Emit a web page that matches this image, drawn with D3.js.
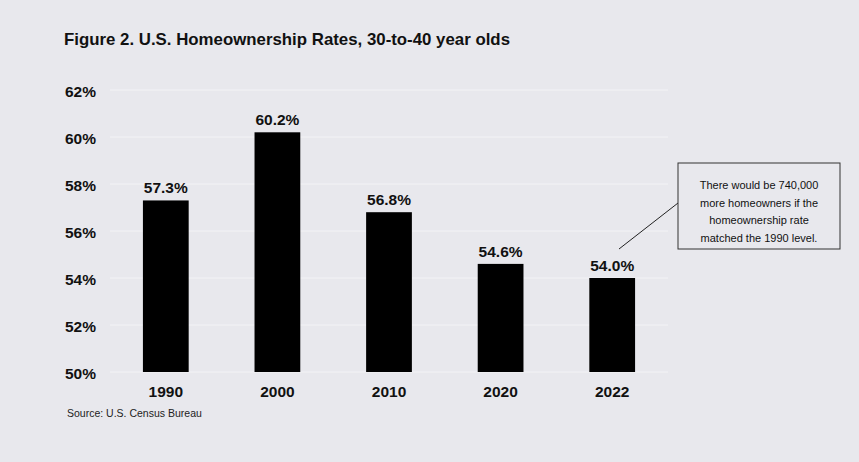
<!DOCTYPE html>
<html><head><meta charset="utf-8">
<script src="https://cdn.jsdelivr.net/npm/d3@7"></script>
<style>body{margin:0;background:#e8e8ed;} svg{display:block;font-family:"Liberation Sans",Arial,sans-serif;}</style>
</head><body>
<svg id="c" width="859" height="462"></svg>
<script>
const categories = ["1990","2000","2010","2020","2022"];
const values = [57.3, 60.2, 56.8, 54.6, 54.0];
const yTicks = [50,52,54,56,58,60,62];
const title = "Figure 2. U.S. Homeownership Rates, 30-to-40 year olds";
const source = "Source: U.S. Census Bureau";
const note = ["There would be 740,000","more homeowners if the","homeownership rate","matched the 1990 level."];

const svg = d3.select("#c");
svg.append("rect").attr("width",859).attr("height",462).attr("fill","#e8e8ed");

const x = d3.scaleBand().domain(categories).range([110,668]).paddingInner(0.59).paddingOuter(0.295);
const y = d3.scaleLinear().domain([50,62]).range([372,90]);

svg.append("text").attr("x",64).attr("y",45).attr("font-size",17).attr("font-weight","bold").attr("fill","#111")
  .attr("textLength",446).attr("lengthAdjust","spacingAndGlyphs").text(title);

// grid
svg.append("g").selectAll("line").data(yTicks).join("line")
  .attr("x1",110).attr("x2",668).attr("y1",d=>y(d)).attr("y2",d=>y(d))
  .attr("stroke","#f3f3f6").attr("stroke-width",1);

// y axis
const ya = svg.append("g").attr("transform","translate(96,0)")
  .call(d3.axisLeft(y).tickValues(yTicks).tickFormat(d=>d+"%").tickSize(0).tickPadding(0));
ya.select(".domain").remove();
ya.selectAll("text").attr("font-size",15.5).attr("font-weight","bold").attr("fill","#111")
  .attr("font-family","Liberation Sans, Arial, sans-serif").attr("dy","0.4em");

// bars
const data = categories.map((c,i)=>({c,v:values[i]}));
svg.append("g").selectAll("rect").data(data).join("rect")
  .attr("x",d=>x(d.c)).attr("width",x.bandwidth())
  .attr("y",d=>y(d.v)).attr("height",d=>y(50)-y(d.v)).attr("fill","#000");

svg.append("g").selectAll("text").data(data).join("text")
  .attr("x",d=>x(d.c)+x.bandwidth()/2).attr("y",d=>y(d.v)-7)
  .attr("text-anchor","middle").attr("font-size",15.5).attr("font-weight","bold").attr("fill","#111")
  .text(d=>d.v.toFixed(1)+"%");

// x axis
const xa = svg.append("g").attr("transform","translate(0,372)")
  .call(d3.axisBottom(x).tickSize(0).tickPadding(14));
xa.select(".domain").remove();
xa.selectAll("text").attr("font-size",15.5).attr("font-weight","bold").attr("fill","#111")
  .attr("font-family","Liberation Sans, Arial, sans-serif");

svg.append("text").attr("x",67).attr("y",417).attr("font-size",10.5).attr("fill","#222").text(source);

// annotation
svg.append("line").attr("x1",619).attr("y1",249).attr("x2",678).attr("y2",203).attr("stroke","#222").attr("stroke-width",1);
svg.append("rect").attr("x",678).attr("y",163).attr("width",162).attr("height",86)
  .attr("fill","#e8e8ed").attr("stroke","#333").attr("stroke-width",1);
svg.append("g").selectAll("text").data(note).join("text")
  .attr("x",759).attr("y",(d,i)=>189+i*17.5).attr("text-anchor","middle")
  .attr("font-size",11).attr("fill","#111").text(d=>d);
</script>
</body></html>
